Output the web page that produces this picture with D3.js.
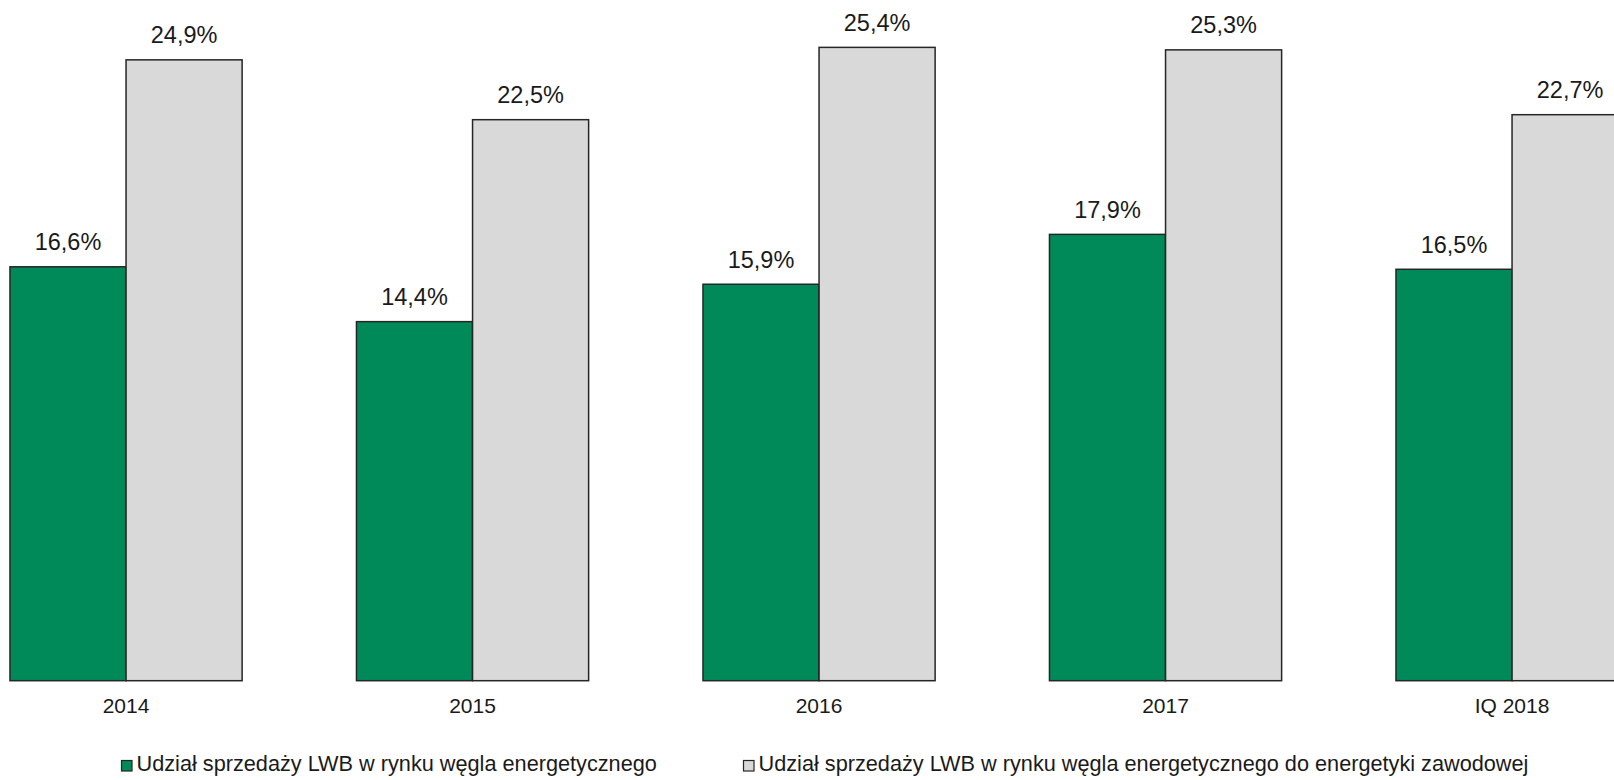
<!DOCTYPE html>
<html>
<head>
<meta charset="utf-8">
<script src="https://cdn.jsdelivr.net/npm/d3@7"></script>
<style>
  body { margin: 0; background: #fff; }
  text { font-family: 'Liberation Sans', Arial, sans-serif; fill: #1a1a1a; }
</style>
</head>
<body>
<div class="bar-chart-container"></div>
<script>
// data
const categories = ['2014', '2015', '2016', '2017', 'IQ 2018'];
const seriesNames = [
  'Udział sprzedaży LWB w rynku węgla energetycznego',
  'Udział sprzedaży LWB w rynku węgla energetycznego do energetyki zawodowej'
];
const shareMarket = [16.6, 14.4, 15.9, 17.9, 16.5];
const shareUtility = [24.9, 22.5, 25.4, 25.3, 22.7];
const seriesColors = ['#008a5a', '#d9d9d9'];

const formatPct = d => d3.format('.1f')(d).replace('.', ',') + '%';

function setupCanvas(){
  const svg_width = 1614;
  const svg_height = 780;
  const baseline = 680.7;

  const svg = d3.select('.bar-chart-container').append('svg')
                .attr('width', svg_width)
                .attr('height', svg_height);

  // grupy kategorii (wykres wychodzi poza prawą krawędź, jak w oryginale)
  const xScale = d3.scaleBand().domain(categories)
                   .range([-47.2, 1685.3])
                   .paddingInner(0.33)
                   .paddingOuter(0.165);
  const xSub = d3.scaleBand().domain([0, 1]).range([0, xScale.bandwidth()]);
  const yScale = d3.scaleLinear().domain([0, 27.3]).range([baseline, 0]);

  const rows = categories.map((c, i) => ({cat: c, vals: [shareMarket[i], shareUtility[i]]}));

  const groups = svg.selectAll('.grp')
                    .data(rows)
                    .enter()
                    .append('g')
                    .attr('class', 'grp')
                    .attr('transform', d => `translate(${xScale(d.cat)},0)`);

  const cells = groups.selectAll('.cell')
                      .data(d => d.vals.map((v, s) => ({v: v, s: s})))
                      .enter()
                      .append('g')
                      .attr('class', 'cell');

  cells.append('rect')
       .attr('x', d => xSub(d.s))
       .attr('y', d => yScale(d.v))
       .attr('width', xSub.bandwidth())
       .attr('height', d => baseline - yScale(d.v))
       .style('fill', d => seriesColors[d.s])
       .style('stroke', '#262626')
       .style('stroke-width', 1.5);

  cells.append('text')
       .attr('x', d => xSub(d.s) + xSub.bandwidth() / 2)
       .attr('y', d => yScale(d.v) - 16.5)
       .attr('text-anchor', 'middle')
       .style('font-size', '23.5px')
       .text(d => formatPct(d.v));

  // etykiety kategorii
  const xAxis = d3.axisBottom(xScale).tickSize(0).tickPadding(0);
  const xAxisDraw = svg.append('g')
                       .attr('class', 'x axis')
                       .attr('transform', `translate(0,${baseline})`)
                       .call(xAxis);
  xAxisDraw.select('.domain').remove();
  xAxisDraw.selectAll('text')
           .attr('y', 32.6)
           .attr('dy', 0)
           .style('font-size', '21px')
           .style('font-family', "'Liberation Sans', Arial, sans-serif")
           .style('fill', '#1a1a1a');

  // legenda
  const legendX = [121.5, 743.5];
  const legend = svg.selectAll('.legend')
                    .data(seriesNames)
                    .enter()
                    .append('g')
                    .attr('class', 'legend')
                    .attr('transform', (d, i) => `translate(${legendX[i]},771)`);
  legend.append('rect')
        .attr('x', 0)
        .attr('y', -10.5)
        .attr('width', 10.5)
        .attr('height', 10.5)
        .style('fill', (d, i) => seriesColors[i])
        .style('stroke', '#262626')
        .style('stroke-width', 1.2);
  legend.append('text')
        .attr('x', 15)
        .attr('y', 0)
        .style('font-size', '21.7px')
        .text(d => d);
}

setupCanvas();
</script>
</body>
</html>
